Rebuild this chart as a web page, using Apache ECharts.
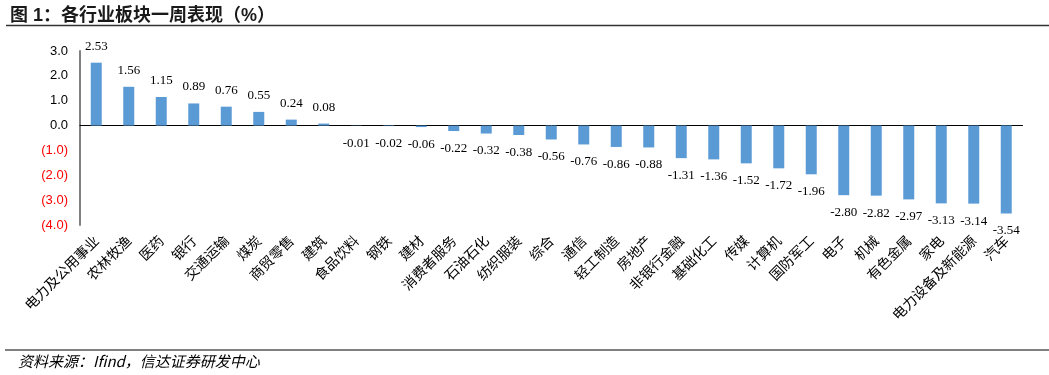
<!DOCTYPE html>
<html><head><meta charset="utf-8">
<script src="https://cdn.jsdelivr.net/npm/echarts@6/dist/echarts.min.js"></script>
<style>html,body{margin:0;padding:0;background:#fff}#c{width:1049px;height:375px}</style>
</head><body><div id="c"></div>
<script>
const categories = ['电力及公用事业','农林牧渔','医药','银行','交通运输','煤炭','商贸零售','建筑','食品饮料','钢铁','建材','消费者服务','石油石化','纺织服装','综合','通信','轻工制造','房地产','非银行金融','基础化工','传媒','计算机','国防军工','电子','机械','有色金属','家电','电力设备及新能源','汽车'];
const values = [2.53,1.56,1.15,0.89,0.76,0.55,0.24,0.08,-0.01,-0.02,-0.06,-0.22,-0.32,-0.38,-0.56,-0.76,-0.86,-0.88,-1.31,-1.36,-1.52,-1.72,-1.96,-2.80,-2.82,-2.97,-3.13,-3.14,-3.54];
const titleText = '图 1：各行业板块一周表现（%）';
const sourceText = '资料来源：Ifind，信达证券研发中心';

const chart = echarts.init(document.getElementById('c'));
const serif = '"Liberation Serif","Times New Roman",serif';
chart.setOption({
  animation: false,
  title: {text: titleText, left: 5, top: 2, textStyle: {fontSize: 18, fontWeight: 'bold', color: '#1a1a1a', fontFamily: 'Arial,"Noto Sans CJK SC",sans-serif'}},
  grid: {left: 80, right: 26.5, top: 51, bottom: 150, containLabel: false},
  xAxis: [{
    type: 'category', data: categories, position: 'bottom',
    axisLine: {show: false, onZero: false}, axisTick: {show: false},
    axisLabel: {rotate: 45, interval: 0, margin: 13, fontSize: 14, color: '#000', fontFamily: '"Noto Sans CJK SC",serif'}
  }, {
    type: 'category', data: categories, position: 'bottom',
    axisLine: {show: true, onZero: true, lineStyle: {color: '#000', width: 1}},
    axisTick: {show: false}, axisLabel: {show: false}
  }],
  yAxis: {
    type: 'value', min: -4, max: 3, interval: 1,
    axisLine: {show: true, lineStyle: {color: '#808080', width: 2}},
    axisTick: {show: false}, splitLine: {show: false},
    axisLabel: {margin: 12, fontSize: 13, fontFamily: 'Arial,"Liberation Sans",sans-serif',
      formatter: v => v < 0 ? '(' + (-v).toFixed(1) + ')' : v.toFixed(1),
      color: v => (Number(v) < 0 ? '#ff0000' : '#000')}
  },
  series: [{
    type: 'bar', barWidth: 11, xAxisIndex: 0,
    itemStyle: {color: '#5b9bd5'},
    data: values.map(v => ({value: v, label: {position: v < 0 ? 'bottom' : 'top', distance: v < 0 ? 11 : 10}})),
    label: {show: true, fontSize: 13, color: '#000', fontFamily: serif, formatter: p => p.value.toFixed(2)}
  }],
  graphic: [
    {type: 'line', shape: {x1: 6, y1: 25.5, x2: 1049, y2: 25.5}, style: {stroke: '#333', lineWidth: 1.5}},
    {type: 'line', shape: {x1: 5, y1: 350, x2: 1049, y2: 350}, style: {stroke: '#808080', lineWidth: 2}},
    {type: 'text', left: 18, top: 354, style: {text: sourceText, fill: '#000', font: 'italic 15px "Noto Sans CJK SC",sans-serif'}}
  ]
});
</script></body></html>
